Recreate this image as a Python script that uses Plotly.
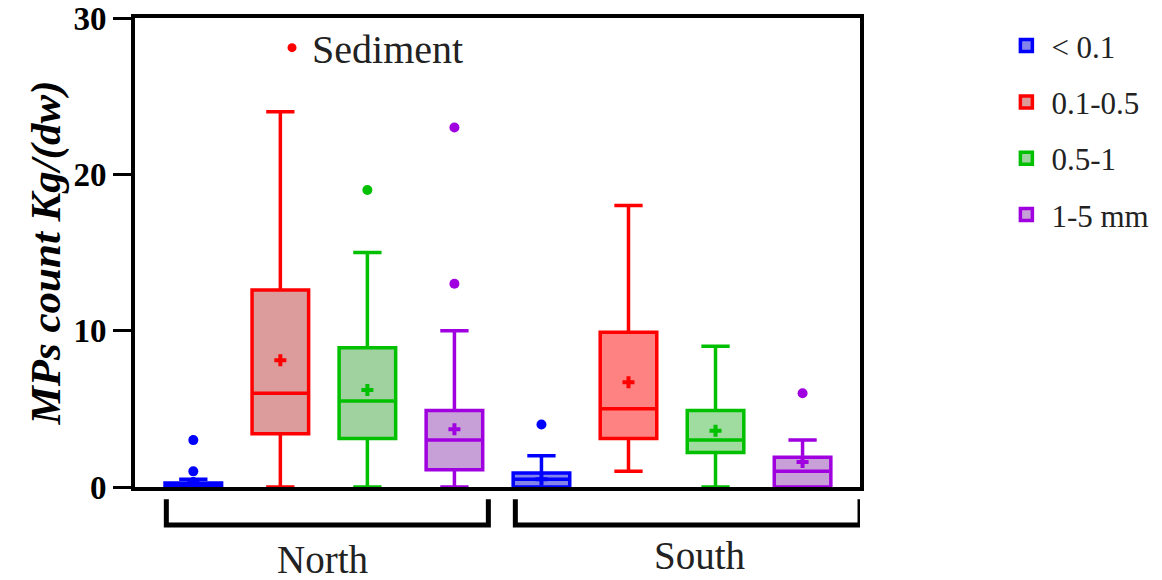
import plotly.graph_objects as go

groups = ["North", "South"]
series = ["< 0.1", "0.1-0.5", "0.5-1", "1-5 mm"]

q1 = {"North": [0.0, 3.4, 3.1, 1.1], "South": [0.0, 3.1, 2.2, 0.0]}
median = {"North": [0.0, 6.0, 5.5, 3.0], "South": [0.5, 5.0, 3.0, 1.0]}
q3 = {"North": [0.25, 12.6, 8.9, 4.9], "South": [0.9, 9.9, 4.9, 1.9]}
lower = {"North": [0.0, 0.0, 0.0, 0.0], "South": [0.0, 1.0, 0.0, 0.0]}
upper = {"North": [0.5, 24.0, 15.0, 10.0], "South": [2.0, 18.0, 9.0, 3.0]}
means = {"North": [0.25, 8.1, 6.2, 3.7], "South": [0.5, 6.7, 3.6, 1.6]}
outliers = {"North": [[1, 3], [], [19], [13, 23]], "South": [[4], [], [], [6]]}

line_colors = ["#0000ff", "#ff0000", "#00c000", "#a000e0"]
fill_colors = {
    "North": ["rgba(90,90,230,0.75)", "#dc9c9c", "#a0d2a0", "#c8a0d8"],
    "South": ["rgba(90,90,230,0.75)", "#ff8282", "#a0dca0", "#c8a0d8"],
}

FONT = "Liberation Serif"
fig = go.Figure()

for gi, g in enumerate(groups):
    for si, s in enumerate(series):
        xpos = gi * 4 + si
        fig.add_trace(go.Box(
            x=[xpos], q1=[q1[g][si]], median=[median[g][si]], q3=[q3[g][si]],
            lowerfence=[lower[g][si]], upperfence=[upper[g][si]],
            name=s, legendgroup=s, showlegend=(gi == 0),
            line=dict(color=line_colors[si], width=3.5),
            fillcolor=fill_colors[g][si], width=0.65, whiskerwidth=0.5,
            boxpoints=False, hoverinfo="skip",
        ))
        fig.add_trace(go.Scatter(
            x=[xpos], y=[means[g][si]], mode="markers",
            marker=dict(symbol="cross", size=10, color=line_colors[si]),
            showlegend=False, hoverinfo="skip",
        ))
        if outliers[g][si]:
            fig.add_trace(go.Scatter(
                x=[xpos] * len(outliers[g][si]), y=outliers[g][si], mode="markers",
                marker=dict(symbol="circle", size=10, color=line_colors[si]),
                showlegend=False, hoverinfo="skip",
            ))

fig.add_trace(go.Scatter(
    x=[None], y=[None], mode="markers", name="Sediment",
    marker=dict(symbol="circle", size=9, color="#ff0000"),
    legend="legend2", showlegend=True,
))

shapes = []
for x0, x1 in [(-0.31, 3.39), (3.70, 7.66)]:
    shapes.append(dict(type="path", xref="x", yref="paper",
                       path=f"M {x0},-0.026 L {x0},-0.081 L {x1},-0.081 L {x1},-0.026",
                       line=dict(color="black", width=5)))

fig.update_layout(
    width=1162, height=580,
    margin=dict(l=135, r=302, t=18, b=93, autoexpand=False),
    paper_bgcolor="white", plot_bgcolor="white",
    font=dict(family=FONT, color="black"),
    showlegend=True,
    legend=dict(x=1.195, y=0.998, xanchor="left", yanchor="top",
                font=dict(family=FONT, size=31, color="#222"),
                tracegroupgap=13, itemwidth=40),
    legend2=dict(x=0.189, y=1.006, xanchor="left", yanchor="top",
                 font=dict(family=FONT, size=40, color="#222"),
                 bgcolor="rgba(0,0,0,0)"),
    xaxis=dict(range=[-0.67, 7.66], showticklabels=False, ticks="",
               showgrid=False, zeroline=False, showline=True, linecolor="black",
               linewidth=4, mirror=True),
    yaxis=dict(range=[0, 30], tickvals=[0, 10, 20, 30], ticks="outside", ticklen=18,
               tickwidth=3, tickcolor="black", showgrid=False, zeroline=False,
               showline=True, linecolor="black", linewidth=4, mirror=True,
               tickfont=dict(family=FONT, size=33, color="black", weight="bold"),
               title=dict(text="<b><i>MPs count Kg/(dw)</i></b>",
                          font=dict(family=FONT, size=43, color="black"), standoff=0)),
    shapes=shapes,
    annotations=[
        dict(text="North", x=1.48, y=-0.155, xref="x", yref="paper", showarrow=False,
             font=dict(family=FONT, size=39, color="#222"), yanchor="middle"),
        dict(text="South", x=5.82, y=-0.146, xref="x", yref="paper", showarrow=False,
             font=dict(family=FONT, size=39, color="#222"), yanchor="middle"),
    ],
)

fig.write_html("out.html", config={"displayModeBar": False},
               post_script="document.body.style.margin='0';")
